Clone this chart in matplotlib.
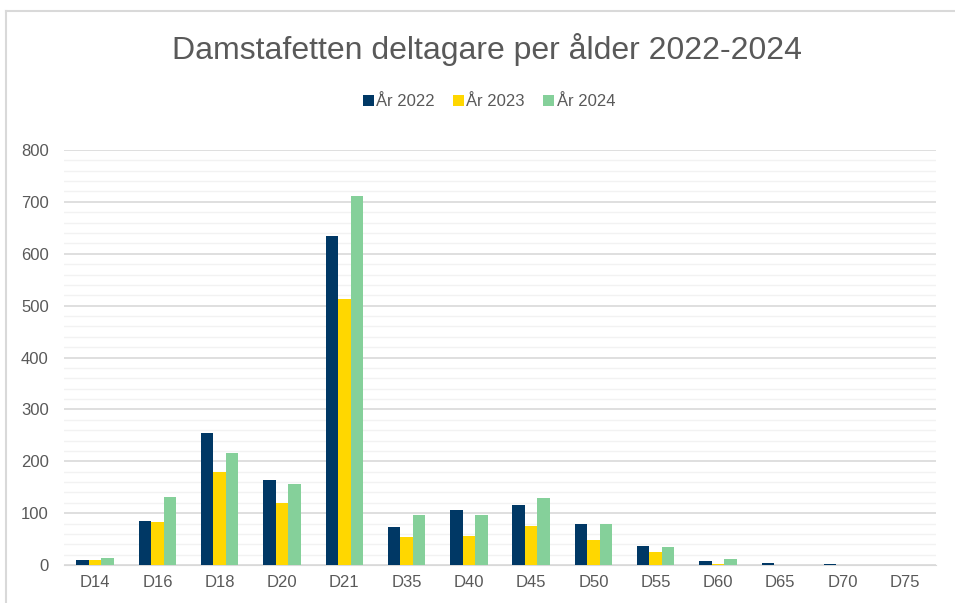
import numpy as np
import matplotlib.pyplot as plt
from matplotlib.lines import Line2D

plt.rcParams['font.family'] = ['Liberation Sans', 'DejaVu Sans']

# data
klasser = ['D14', 'D16', 'D18', 'D20', 'D21', 'D35', 'D40', 'D45', 'D50', 'D55', 'D60', 'D65', 'D70', 'D75']
ar_2022 = [10, 84, 254, 163, 635, 73, 106, 116, 80, 37, 8, 4, 1, 0]
ar_2023 = [10, 83, 179, 119, 513, 54, 55, 76, 48, 26, 2, 0, 0, 0]
ar_2024 = [14, 132, 215, 156, 712, 97, 97, 129, 80, 35, 12, 0, 0, 0]
serier = ['År 2022', 'År 2023', 'År 2024']
farger = ['#003865', '#FFD700', '#85D09A']

fig = plt.figure(figsize=(9.55, 6.03), dpi=100)
ax = fig.add_axes([64 / 955, 38 / 603, 872 / 955, 415 / 603])

x = np.arange(len(klasser))
w = 0.2
for i, (vals, namn, f) in enumerate(zip([ar_2022, ar_2023, ar_2024], serier, farger)):
    ax.bar(x + (i - 1) * w, vals, w, color=f, label=namn, zorder=3)

ax.set_xlim(-0.5, len(klasser) - 0.5)
ax.set_ylim(0, 800)
ax.set_yticks(range(0, 801, 100))
ax.set_yticks(range(0, 801, 20), minor=True)
ax.grid(axis='y', which='major', color='#D9D9D9', linewidth=1.2, zorder=0)
ax.grid(axis='y', which='minor', color='#F2F2F2', linewidth=1.0, zorder=0)
ax.set_xticks(x)
ax.set_xticklabels(klasser)
ax.tick_params(axis='both', which='both', length=0, labelsize=12, colors='#595959')
ax.tick_params(axis='x', pad=7)
ax.tick_params(axis='y', pad=11)
for s in ['top', 'right', 'left']:
    ax.spines[s].set_visible(False)
ax.spines['bottom'].set_color('#D9D9D9')

fig.text(487 / 955, 1 - 49 / 603, 'Damstafetten deltagare per ålder 2022-2024',
         ha='center', va='center', fontsize=23, color='#595959')
ax.legend(loc='center', bbox_to_anchor=(489 / 955, 1 - 102 / 603), bbox_transform=fig.transFigure,
          ncol=3, frameon=False, fontsize=12, labelcolor='#595959',
          handlelength=0.65, handleheight=0.65, handletextpad=0.15, columnspacing=1.1)

# chart border as in the screenshot
fig.add_artist(Line2D([6 / 955, 6 / 955], [0, 1 - 10.5 / 603], transform=fig.transFigure, color='#D9D9D9', lw=1.5))
fig.add_artist(Line2D([6 / 955, 1], [1 - 10.5 / 603, 1 - 10.5 / 603], transform=fig.transFigure, color='#D9D9D9', lw=1.5))

fig.savefig('out.png', dpi=100)
